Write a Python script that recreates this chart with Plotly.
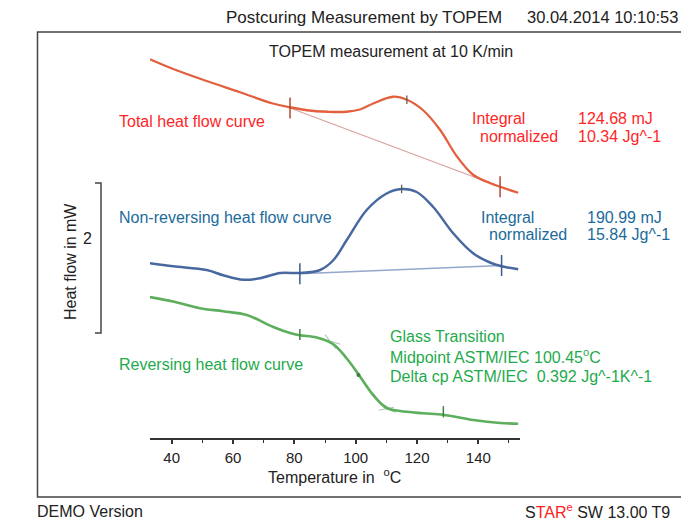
import plotly.graph_objects as go

# ---------------- data (temperature in degC, heat flow in mW, offset per curve) ----------------
total_T = [32.9, 40.5, 51.4, 62.3, 73.0, 78.6, 84.1, 91.0, 97.0, 101.4, 105.7, 112.2, 116.7, 122.0, 127.5, 133.1, 138.3, 143.8, 147.1, 153.0]
total_HF = [5.05, 4.92, 4.76, 4.61, 4.46, 4.41, 4.37, 4.35, 4.35, 4.38, 4.46, 4.55, 4.51, 4.37, 4.11, 3.75, 3.51, 3.40, 3.35, 3.27]
total_base_T = [78.6, 147.1]
total_base_HF = [4.40, 3.35]

nonrev_T = [32.9, 40.5, 51.4, 56.8, 63.4, 68.8, 75.4, 81.8, 88.4, 92.7, 97.1, 103.6, 110.1, 115.0, 119.9, 125.3, 131.8, 138.4, 143.8, 147.6, 153.0]
nonrev_HF = [2.33, 2.29, 2.24, 2.17, 2.11, 2.13, 2.20, 2.20, 2.24, 2.37, 2.64, 3.04, 3.26, 3.32, 3.28, 3.08, 2.73, 2.46, 2.34, 2.29, 2.25]
nonrev_base_T = [81.8, 147.6]
nonrev_base_HF = [2.19, 2.30]

rev_T = [32.9, 40.5, 49.2, 56.8, 64.5, 73.1, 78.6, 81.8, 87.3, 92.7, 97.1, 101.4, 105.8, 110.1, 114.5, 122.1, 128.6, 138.4, 147.1, 153.0]
rev_HF = [1.88, 1.82, 1.73, 1.69, 1.64, 1.48, 1.40, 1.37, 1.34, 1.25, 1.06, 0.82, 0.57, 0.40, 0.36, 0.33, 0.31, 0.24, 0.20, 0.19]

# evaluation marks
total_limits_T = [78.6, 147.1]
total_limits_HF = [4.40, 3.35]
nonrev_limits_T = [81.8, 147.6]
nonrev_limits_HF = [2.19, 2.30]
peaks_T = [116.7, 115.0]
peaks_HF = [4.51, 3.32]
rev_limits_T = [81.8, 128.6]
rev_limits_HF = [1.38, 0.35]
tg_mid_T = [100.9]
tg_mid_HF = [0.84]
tan_onset_a_T = [88.5, 95.0]
tan_onset_a_HF = [1.33, 1.25]
tan_onset_b_T = [90.0, 93.5]
tan_onset_b_HF = [1.38, 1.19]
tan_end_a_T = [107.0, 113.0]
tan_end_a_HF = [0.50, 0.34]
tan_end_b_T = [107.5, 112.5]
tan_end_b_HF = [0.37, 0.41]

x_ticks = [40, 60, 80, 100, 120, 140]
scale_bar_HF = [1.4, 3.4]

RED = "#E2603E"
BLUE = "#47699F"
GREEN = "#5DAE5D"
RED_TXT = "#FF2626"
BLUE_TXT = "#1B6B9B"
GREEN_TXT = "#1FAA4C"
FONT = "Liberation Sans, Arial, sans-serif"

W, H = 681, 521
L, R, T, B = 150, 161, 35, 83
PW, PH = W - L - R, H - T - B


def px(xp):
    return (xp - L) / PW


def py(yp):
    return (H - B - yp) / PH


fig = go.Figure()

# baselines
fig.add_trace(go.Scatter(x=total_base_T, y=total_base_HF, mode="lines",
                         line=dict(color="#D9A0A0", width=1.2), hoverinfo="skip"))
fig.add_trace(go.Scatter(x=nonrev_base_T, y=nonrev_base_HF, mode="lines",
                         line=dict(color="#93A8CC", width=1.5), hoverinfo="skip"))
# tangents on the reversing curve
for tx, ty in [(tan_onset_a_T, tan_onset_a_HF), (tan_onset_b_T, tan_onset_b_HF),
               (tan_end_a_T, tan_end_a_HF), (tan_end_b_T, tan_end_b_HF)]:
    fig.add_trace(go.Scatter(x=tx, y=ty, mode="lines",
                             line=dict(color="#A9C7B0", width=1.2), hoverinfo="skip"))

# curves
fig.add_trace(go.Scatter(x=total_T, y=total_HF, mode="lines",
                         line=dict(color=RED, width=2.3, shape="spline", smoothing=1.0)))
fig.add_trace(go.Scatter(x=nonrev_T, y=nonrev_HF, mode="lines",
                         line=dict(color=BLUE, width=2.5, shape="spline", smoothing=1.0)))
fig.add_trace(go.Scatter(x=rev_T, y=rev_HF, mode="lines",
                         line=dict(color=GREEN, width=2.7, shape="spline", smoothing=1.0)))

# limit marks
fig.add_trace(go.Scatter(x=total_limits_T, y=total_limits_HF, mode="markers",
                         marker=dict(symbol="line-ns", size=15, line=dict(color="#B04830", width=1.5))))
fig.add_trace(go.Scatter(x=nonrev_limits_T, y=nonrev_limits_HF, mode="markers",
                         marker=dict(symbol="line-ns", size=15, line=dict(color="#3A5A90", width=1.5))))
fig.add_trace(go.Scatter(x=peaks_T, y=peaks_HF, mode="markers",
                         marker=dict(symbol="line-ns", size=6, line=dict(color="#555", width=1.2))))
fig.add_trace(go.Scatter(x=rev_limits_T, y=rev_limits_HF, mode="markers",
                         marker=dict(symbol="line-ns", size=8, line=dict(color="#3F7F3F", width=1.5))))
fig.add_trace(go.Scatter(x=tg_mid_T, y=tg_mid_HF, mode="markers",
                         marker=dict(symbol="circle", size=4, color="#3F7F3F")))

# scale bar (2 mW)
fig.add_shape(type="path", xref="paper", yref="y",
              path=f"M {px(95)},{scale_bar_HF[1]} L {px(101)},{scale_bar_HF[1]} "
                   f"L {px(101)},{scale_bar_HF[0]} L {px(95)},{scale_bar_HF[0]}",
              line=dict(color="#444", width=1.5))

# frame
fig.add_shape(type="rect", xref="paper", yref="paper",
              x0=px(37.5), x1=px(720), y0=py(497), y1=py(32),
              line=dict(color="#444", width=1.5), layer="below")

ann = []


def text(s, xp, yp, color="#222", size=16, xanchor="left", angle=0):
    ann.append(dict(text=s, x=px(xp), y=py(yp), xref="paper", yref="paper",
                    xanchor=xanchor, yanchor="middle", showarrow=False, textangle=angle,
                    font=dict(family=FONT, size=size, color=color)))


text("Postcuring Measurement by TOPEM", 224, 17, size=17)
text("30.04.2014 10:10:53", 525, 17, size=16.5)
text("TOPEM measurement at 10 K/min", 391, 52, xanchor="center")

text("Total heat flow curve", 117, 121, RED_TXT)
text("Integral", 470, 119, RED_TXT)
text("normalized", 478, 136, RED_TXT)
text("124.68 mJ", 576, 119, RED_TXT)
text("10.34 Jg^-1", 576, 136, RED_TXT)

text("Non-reversing heat flow curve", 117, 218, BLUE_TXT)
text("Integral", 479, 217, BLUE_TXT)
text("normalized", 487, 234, BLUE_TXT)
text("190.99 mJ", 585, 217, BLUE_TXT)
text("15.84 Jg^-1", 585, 234, BLUE_TXT)

text("Glass Transition", 388, 336, GREEN_TXT)
text("Midpoint ASTM/IEC 100.45<sup>o</sup>C", 388, 356, GREEN_TXT)
text("Delta cp ASTM/IEC  0.392 Jg^-1K^-1", 388, 376, GREEN_TXT)
text("Reversing heat flow curve", 117, 364, GREEN_TXT)

text("Heat flow in mW", 70, 262, angle=-90, xanchor="center")
text("2", 87, 238, xanchor="center")
text("Temperature in  <sup>o</sup>C", 334, 476, xanchor="center")

text("DEMO Version", 35, 511, size=16)
text("S<span style='color:#FF2020'>TAR<sup>e</sup></span> SW 13.00 T9", 523, 511, size=16)

fig.update_layout(
    width=W, height=H,
    margin=dict(l=L, r=R, t=T, b=B),
    paper_bgcolor="white", plot_bgcolor="white",
    showlegend=False,
    annotations=ann,
    xaxis=dict(range=[32.92, 153.6], showgrid=False, zeroline=False,
               showline=True, linecolor="#333", linewidth=2,
               ticks="outside", ticklen=4, tickwidth=1.5, tickcolor="#333",
               tickvals=x_ticks, ticktext=[str(v) for v in x_ticks],
               tickfont=dict(family=FONT, size=15, color="#222"),
               ticklabelstandoff=1,
               minor=dict(dtick=10, tick0=0, ticks="outside", ticklen=3, tickcolor="#333", tickwidth=1.2),
               fixedrange=True),
    yaxis=dict(range=[0, PH / 75.0], visible=False, showgrid=False, zeroline=False, fixedrange=True),
)

fig.write_html("out.html")
